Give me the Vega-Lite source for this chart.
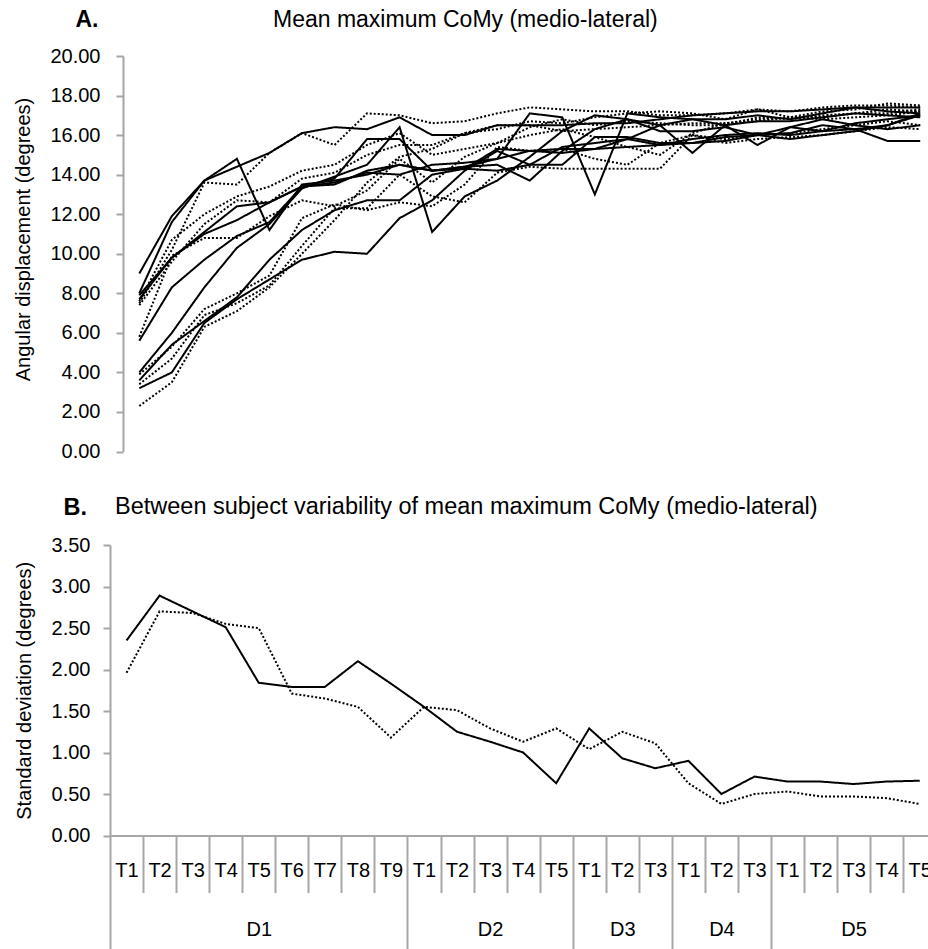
{
  "$schema": "https://vega.github.io/schema/vega-lite/v6.json",
  "background": "white",
  "padding": {"left": 13, "top": 8, "right": 0, "bottom": 0},
  "config": {
    "font": "Liberation Sans",
    "view": {"stroke": null},
    "axis": {
      "domainColor": "#a6a6a6", "tickColor": "#a6a6a6", "domainWidth": 2, "tickWidth": 2,
      "labelColor": "#000000", "titleColor": "#000000", "labelFontSize": 20, "titleFontSize": 20,
      "titleFontWeight": "normal", "grid": false, "labelFont": "Liberation Sans", "titleFont": "Liberation Sans"
    },
    "title": {"font": "Liberation Sans", "fontSize": 23, "fontWeight": "normal", "color": "#000000"}
  },
  "datasets": {
    "variability": [
      {"group":"G1","trial":"D1 T1","sd":2.35},{"group":"G1","trial":"D1 T2","sd":2.89},{"group":"G1","trial":"D1 T3","sd":2.70},{"group":"G1","trial":"D1 T4","sd":2.51},{"group":"G1","trial":"D1 T5","sd":1.84},{"group":"G1","trial":"D1 T6","sd":1.79},{"group":"G1","trial":"D1 T7","sd":1.79},{"group":"G1","trial":"D1 T8","sd":2.10},{"group":"G1","trial":"D1 T9","sd":1.83},
      {"group":"G1","trial":"D2 T1","sd":1.55},{"group":"G1","trial":"D2 T2","sd":1.25},{"group":"G1","trial":"D2 T3","sd":1.13},{"group":"G1","trial":"D2 T4","sd":1.00},{"group":"G1","trial":"D2 T5","sd":0.63},
      {"group":"G1","trial":"D3 T1","sd":1.29},{"group":"G1","trial":"D3 T2","sd":0.93},{"group":"G1","trial":"D3 T3","sd":0.81},
      {"group":"G1","trial":"D4 T1","sd":0.90},{"group":"G1","trial":"D4 T2","sd":0.50},{"group":"G1","trial":"D4 T3","sd":0.71},
      {"group":"G1","trial":"D5 T1","sd":0.65},{"group":"G1","trial":"D5 T2","sd":0.65},{"group":"G1","trial":"D5 T3","sd":0.62},{"group":"G1","trial":"D5 T4","sd":0.65},{"group":"G1","trial":"D5 T5","sd":0.66},
      {"group":"G2","trial":"D1 T1","sd":1.96},{"group":"G2","trial":"D1 T2","sd":2.70},{"group":"G2","trial":"D1 T3","sd":2.68},{"group":"G2","trial":"D1 T4","sd":2.55},{"group":"G2","trial":"D1 T5","sd":2.50},{"group":"G2","trial":"D1 T6","sd":1.71},{"group":"G2","trial":"D1 T7","sd":1.65},{"group":"G2","trial":"D1 T8","sd":1.55},{"group":"G2","trial":"D1 T9","sd":1.18},
      {"group":"G2","trial":"D2 T1","sd":1.55},{"group":"G2","trial":"D2 T2","sd":1.51},{"group":"G2","trial":"D2 T3","sd":1.29},{"group":"G2","trial":"D2 T4","sd":1.13},{"group":"G2","trial":"D2 T5","sd":1.29},
      {"group":"G2","trial":"D3 T1","sd":1.04},{"group":"G2","trial":"D3 T2","sd":1.25},{"group":"G2","trial":"D3 T3","sd":1.11},
      {"group":"G2","trial":"D4 T1","sd":0.63},{"group":"G2","trial":"D4 T2","sd":0.38},{"group":"G2","trial":"D4 T3","sd":0.50},
      {"group":"G2","trial":"D5 T1","sd":0.53},{"group":"G2","trial":"D5 T2","sd":0.47},{"group":"G2","trial":"D5 T3","sd":0.47},{"group":"G2","trial":"D5 T4","sd":0.45},{"group":"G2","trial":"D5 T5","sd":0.38}
    ],
    "subjects": [
      {"subject":"S1","group":"G1","trial":"D1 T1","deg":9.0},{"subject":"S1","group":"G1","trial":"D1 T2","deg":11.9},{"subject":"S1","group":"G1","trial":"D1 T3","deg":13.7},{"subject":"S1","group":"G1","trial":"D1 T4","deg":14.4},{"subject":"S1","group":"G1","trial":"D1 T5","deg":15.1},{"subject":"S1","group":"G1","trial":"D1 T6","deg":16.1},{"subject":"S1","group":"G1","trial":"D1 T7","deg":16.4},{"subject":"S1","group":"G1","trial":"D1 T8","deg":16.3},{"subject":"S1","group":"G1","trial":"D1 T9","deg":16.9},{"subject":"S1","group":"G1","trial":"D2 T1","deg":16.0},{"subject":"S1","group":"G1","trial":"D2 T2","deg":16.0},{"subject":"S1","group":"G1","trial":"D2 T3","deg":16.5},{"subject":"S1","group":"G1","trial":"D2 T4","deg":16.5},{"subject":"S1","group":"G1","trial":"D2 T5","deg":16.5},{"subject":"S1","group":"G1","trial":"D3 T1","deg":16.6},{"subject":"S1","group":"G1","trial":"D3 T2","deg":16.6},{"subject":"S1","group":"G1","trial":"D3 T3","deg":16.8},{"subject":"S1","group":"G1","trial":"D4 T1","deg":17.0},{"subject":"S1","group":"G1","trial":"D4 T2","deg":17.1},{"subject":"S1","group":"G1","trial":"D4 T3","deg":17.2},{"subject":"S1","group":"G1","trial":"D5 T1","deg":17.2},{"subject":"S1","group":"G1","trial":"D5 T2","deg":17.3},{"subject":"S1","group":"G1","trial":"D5 T3","deg":17.4},{"subject":"S1","group":"G1","trial":"D5 T4","deg":17.4},{"subject":"S1","group":"G1","trial":"D5 T5","deg":17.4},
      {"subject":"S2","group":"G1","trial":"D1 T1","deg":8.0},{"subject":"S2","group":"G1","trial":"D1 T2","deg":11.6},{"subject":"S2","group":"G1","trial":"D1 T3","deg":13.7},{"subject":"S2","group":"G1","trial":"D1 T4","deg":14.8},{"subject":"S2","group":"G1","trial":"D1 T5","deg":11.2},{"subject":"S2","group":"G1","trial":"D1 T6","deg":13.5},{"subject":"S2","group":"G1","trial":"D1 T7","deg":13.7},{"subject":"S2","group":"G1","trial":"D1 T8","deg":14.0},{"subject":"S2","group":"G1","trial":"D1 T9","deg":14.5},{"subject":"S2","group":"G1","trial":"D2 T1","deg":14.2},{"subject":"S2","group":"G1","trial":"D2 T2","deg":14.3},{"subject":"S2","group":"G1","trial":"D2 T3","deg":15.3},{"subject":"S2","group":"G1","trial":"D2 T4","deg":15.2},{"subject":"S2","group":"G1","trial":"D2 T5","deg":15.1},{"subject":"S2","group":"G1","trial":"D3 T1","deg":15.3},{"subject":"S2","group":"G1","trial":"D3 T2","deg":15.8},{"subject":"S2","group":"G1","trial":"D3 T3","deg":16.5},{"subject":"S2","group":"G1","trial":"D4 T1","deg":16.8},{"subject":"S2","group":"G1","trial":"D4 T2","deg":16.8},{"subject":"S2","group":"G1","trial":"D4 T3","deg":17.0},{"subject":"S2","group":"G1","trial":"D5 T1","deg":16.8},{"subject":"S2","group":"G1","trial":"D5 T2","deg":17.1},{"subject":"S2","group":"G1","trial":"D5 T3","deg":17.4},{"subject":"S2","group":"G1","trial":"D5 T4","deg":17.2},{"subject":"S2","group":"G1","trial":"D5 T5","deg":17.1},
      {"subject":"S3","group":"G1","trial":"D1 T1","deg":7.9},{"subject":"S3","group":"G1","trial":"D1 T2","deg":9.8},{"subject":"S3","group":"G1","trial":"D1 T3","deg":11.0},{"subject":"S3","group":"G1","trial":"D1 T4","deg":11.7},{"subject":"S3","group":"G1","trial":"D1 T5","deg":12.6},{"subject":"S3","group":"G1","trial":"D1 T6","deg":13.4},{"subject":"S3","group":"G1","trial":"D1 T7","deg":13.8},{"subject":"S3","group":"G1","trial":"D1 T8","deg":15.8},{"subject":"S3","group":"G1","trial":"D1 T9","deg":15.8},{"subject":"S3","group":"G1","trial":"D2 T1","deg":14.2},{"subject":"S3","group":"G1","trial":"D2 T2","deg":14.4},{"subject":"S3","group":"G1","trial":"D2 T3","deg":14.5},{"subject":"S3","group":"G1","trial":"D2 T4","deg":13.7},{"subject":"S3","group":"G1","trial":"D2 T5","deg":15.2},{"subject":"S3","group":"G1","trial":"D3 T1","deg":16.3},{"subject":"S3","group":"G1","trial":"D3 T2","deg":16.8},{"subject":"S3","group":"G1","trial":"D3 T3","deg":16.5},{"subject":"S3","group":"G1","trial":"D4 T1","deg":15.1},{"subject":"S3","group":"G1","trial":"D4 T2","deg":16.5},{"subject":"S3","group":"G1","trial":"D4 T3","deg":16.7},{"subject":"S3","group":"G1","trial":"D5 T1","deg":16.7},{"subject":"S3","group":"G1","trial":"D5 T2","deg":16.9},{"subject":"S3","group":"G1","trial":"D5 T3","deg":17.1},{"subject":"S3","group":"G1","trial":"D5 T4","deg":17.0},{"subject":"S3","group":"G1","trial":"D5 T5","deg":16.9},
      {"subject":"S4","group":"G1","trial":"D1 T1","deg":5.6},{"subject":"S4","group":"G1","trial":"D1 T2","deg":8.3},{"subject":"S4","group":"G1","trial":"D1 T3","deg":9.7},{"subject":"S4","group":"G1","trial":"D1 T4","deg":10.9},{"subject":"S4","group":"G1","trial":"D1 T5","deg":11.6},{"subject":"S4","group":"G1","trial":"D1 T6","deg":13.4},{"subject":"S4","group":"G1","trial":"D1 T7","deg":13.5},{"subject":"S4","group":"G1","trial":"D1 T8","deg":14.2},{"subject":"S4","group":"G1","trial":"D1 T9","deg":14.5},{"subject":"S4","group":"G1","trial":"D2 T1","deg":14.2},{"subject":"S4","group":"G1","trial":"D2 T2","deg":14.4},{"subject":"S4","group":"G1","trial":"D2 T3","deg":14.8},{"subject":"S4","group":"G1","trial":"D2 T4","deg":17.1},{"subject":"S4","group":"G1","trial":"D2 T5","deg":16.9},{"subject":"S4","group":"G1","trial":"D3 T1","deg":13.0},{"subject":"S4","group":"G1","trial":"D3 T2","deg":17.1},{"subject":"S4","group":"G1","trial":"D3 T3","deg":16.9},{"subject":"S4","group":"G1","trial":"D4 T1","deg":16.8},{"subject":"S4","group":"G1","trial":"D4 T2","deg":16.5},{"subject":"S4","group":"G1","trial":"D4 T3","deg":15.5},{"subject":"S4","group":"G1","trial":"D5 T1","deg":16.4},{"subject":"S4","group":"G1","trial":"D5 T2","deg":16.8},{"subject":"S4","group":"G1","trial":"D5 T3","deg":16.5},{"subject":"S4","group":"G1","trial":"D5 T4","deg":16.3},{"subject":"S4","group":"G1","trial":"D5 T5","deg":16.5},
      {"subject":"S5","group":"G1","trial":"D1 T1","deg":4.0},{"subject":"S5","group":"G1","trial":"D1 T2","deg":6.0},{"subject":"S5","group":"G1","trial":"D1 T3","deg":8.3},{"subject":"S5","group":"G1","trial":"D1 T4","deg":10.3},{"subject":"S5","group":"G1","trial":"D1 T5","deg":11.5},{"subject":"S5","group":"G1","trial":"D1 T6","deg":13.3},{"subject":"S5","group":"G1","trial":"D1 T7","deg":13.9},{"subject":"S5","group":"G1","trial":"D1 T8","deg":14.5},{"subject":"S5","group":"G1","trial":"D1 T9","deg":16.4},{"subject":"S5","group":"G1","trial":"D2 T1","deg":11.1},{"subject":"S5","group":"G1","trial":"D2 T2","deg":12.9},{"subject":"S5","group":"G1","trial":"D2 T3","deg":13.7},{"subject":"S5","group":"G1","trial":"D2 T4","deg":14.9},{"subject":"S5","group":"G1","trial":"D2 T5","deg":16.2},{"subject":"S5","group":"G1","trial":"D3 T1","deg":17.0},{"subject":"S5","group":"G1","trial":"D3 T2","deg":16.8},{"subject":"S5","group":"G1","trial":"D3 T3","deg":16.2},{"subject":"S5","group":"G1","trial":"D4 T1","deg":16.2},{"subject":"S5","group":"G1","trial":"D4 T2","deg":16.4},{"subject":"S5","group":"G1","trial":"D4 T3","deg":16.0},{"subject":"S5","group":"G1","trial":"D5 T1","deg":16.4},{"subject":"S5","group":"G1","trial":"D5 T2","deg":16.2},{"subject":"S5","group":"G1","trial":"D5 T3","deg":16.6},{"subject":"S5","group":"G1","trial":"D5 T4","deg":16.8},{"subject":"S5","group":"G1","trial":"D5 T5","deg":17.0},
      {"subject":"S6","group":"G1","trial":"D1 T1","deg":3.6},{"subject":"S6","group":"G1","trial":"D1 T2","deg":5.4},{"subject":"S6","group":"G1","trial":"D1 T3","deg":6.6},{"subject":"S6","group":"G1","trial":"D1 T4","deg":7.8},{"subject":"S6","group":"G1","trial":"D1 T5","deg":9.7},{"subject":"S6","group":"G1","trial":"D1 T6","deg":11.2},{"subject":"S6","group":"G1","trial":"D1 T7","deg":12.2},{"subject":"S6","group":"G1","trial":"D1 T8","deg":12.7},{"subject":"S6","group":"G1","trial":"D1 T9","deg":12.7},{"subject":"S6","group":"G1","trial":"D2 T1","deg":14.0},{"subject":"S6","group":"G1","trial":"D2 T2","deg":14.3},{"subject":"S6","group":"G1","trial":"D2 T3","deg":14.2},{"subject":"S6","group":"G1","trial":"D2 T4","deg":14.5},{"subject":"S6","group":"G1","trial":"D2 T5","deg":15.4},{"subject":"S6","group":"G1","trial":"D3 T1","deg":15.6},{"subject":"S6","group":"G1","trial":"D3 T2","deg":15.8},{"subject":"S6","group":"G1","trial":"D3 T3","deg":15.5},{"subject":"S6","group":"G1","trial":"D4 T1","deg":15.8},{"subject":"S6","group":"G1","trial":"D4 T2","deg":16.0},{"subject":"S6","group":"G1","trial":"D4 T3","deg":16.1},{"subject":"S6","group":"G1","trial":"D5 T1","deg":16.0},{"subject":"S6","group":"G1","trial":"D5 T2","deg":16.2},{"subject":"S6","group":"G1","trial":"D5 T3","deg":16.3},{"subject":"S6","group":"G1","trial":"D5 T4","deg":15.7},{"subject":"S6","group":"G1","trial":"D5 T5","deg":15.7},
      {"subject":"S7","group":"G1","trial":"D1 T1","deg":3.2},{"subject":"S7","group":"G1","trial":"D1 T2","deg":4.0},{"subject":"S7","group":"G1","trial":"D1 T3","deg":6.5},{"subject":"S7","group":"G1","trial":"D1 T4","deg":7.7},{"subject":"S7","group":"G1","trial":"D1 T5","deg":8.7},{"subject":"S7","group":"G1","trial":"D1 T6","deg":9.7},{"subject":"S7","group":"G1","trial":"D1 T7","deg":10.1},{"subject":"S7","group":"G1","trial":"D1 T8","deg":10.0},{"subject":"S7","group":"G1","trial":"D1 T9","deg":11.8},{"subject":"S7","group":"G1","trial":"D2 T1","deg":12.7},{"subject":"S7","group":"G1","trial":"D2 T2","deg":14.2},{"subject":"S7","group":"G1","trial":"D2 T3","deg":15.2},{"subject":"S7","group":"G1","trial":"D2 T4","deg":14.5},{"subject":"S7","group":"G1","trial":"D2 T5","deg":14.5},{"subject":"S7","group":"G1","trial":"D3 T1","deg":15.9},{"subject":"S7","group":"G1","trial":"D3 T2","deg":15.9},{"subject":"S7","group":"G1","trial":"D3 T3","deg":15.6},{"subject":"S7","group":"G1","trial":"D4 T1","deg":15.6},{"subject":"S7","group":"G1","trial":"D4 T2","deg":15.9},{"subject":"S7","group":"G1","trial":"D4 T3","deg":16.0},{"subject":"S7","group":"G1","trial":"D5 T1","deg":15.8},{"subject":"S7","group":"G1","trial":"D5 T2","deg":16.0},{"subject":"S7","group":"G1","trial":"D5 T3","deg":16.2},{"subject":"S7","group":"G1","trial":"D5 T4","deg":16.5},{"subject":"S7","group":"G1","trial":"D5 T5","deg":17.0},
      {"subject":"S8","group":"G1","trial":"D1 T1","deg":7.7},{"subject":"S8","group":"G1","trial":"D1 T2","deg":9.8},{"subject":"S8","group":"G1","trial":"D1 T3","deg":11.1},{"subject":"S8","group":"G1","trial":"D1 T4","deg":12.4},{"subject":"S8","group":"G1","trial":"D1 T5","deg":12.6},{"subject":"S8","group":"G1","trial":"D1 T6","deg":13.4},{"subject":"S8","group":"G1","trial":"D1 T7","deg":13.6},{"subject":"S8","group":"G1","trial":"D1 T8","deg":14.1},{"subject":"S8","group":"G1","trial":"D1 T9","deg":14.0},{"subject":"S8","group":"G1","trial":"D2 T1","deg":14.5},{"subject":"S8","group":"G1","trial":"D2 T2","deg":14.6},{"subject":"S8","group":"G1","trial":"D2 T3","deg":14.8},{"subject":"S8","group":"G1","trial":"D2 T4","deg":15.2},{"subject":"S8","group":"G1","trial":"D2 T5","deg":15.3},{"subject":"S8","group":"G1","trial":"D3 T1","deg":15.3},{"subject":"S8","group":"G1","trial":"D3 T2","deg":15.4},{"subject":"S8","group":"G1","trial":"D3 T3","deg":15.5},{"subject":"S8","group":"G1","trial":"D4 T1","deg":15.6},{"subject":"S8","group":"G1","trial":"D4 T2","deg":15.7},{"subject":"S8","group":"G1","trial":"D4 T3","deg":16.0},{"subject":"S8","group":"G1","trial":"D5 T1","deg":16.1},{"subject":"S8","group":"G1","trial":"D5 T2","deg":16.5},{"subject":"S8","group":"G1","trial":"D5 T3","deg":16.3},{"subject":"S8","group":"G1","trial":"D5 T4","deg":16.5},{"subject":"S8","group":"G1","trial":"D5 T5","deg":17.1},
      {"subject":"P1","group":"G2","trial":"D1 T1","deg":7.5},{"subject":"P1","group":"G2","trial":"D1 T2","deg":10.2},{"subject":"P1","group":"G2","trial":"D1 T3","deg":13.6},{"subject":"P1","group":"G2","trial":"D1 T4","deg":13.5},{"subject":"P1","group":"G2","trial":"D1 T5","deg":15.1},{"subject":"P1","group":"G2","trial":"D1 T6","deg":16.1},{"subject":"P1","group":"G2","trial":"D1 T7","deg":15.5},{"subject":"P1","group":"G2","trial":"D1 T8","deg":17.1},{"subject":"P1","group":"G2","trial":"D1 T9","deg":17.0},{"subject":"P1","group":"G2","trial":"D2 T1","deg":16.6},{"subject":"P1","group":"G2","trial":"D2 T2","deg":16.7},{"subject":"P1","group":"G2","trial":"D2 T3","deg":17.1},{"subject":"P1","group":"G2","trial":"D2 T4","deg":17.4},{"subject":"P1","group":"G2","trial":"D2 T5","deg":17.3},{"subject":"P1","group":"G2","trial":"D3 T1","deg":17.2},{"subject":"P1","group":"G2","trial":"D3 T2","deg":17.2},{"subject":"P1","group":"G2","trial":"D3 T3","deg":17.0},{"subject":"P1","group":"G2","trial":"D4 T1","deg":17.0},{"subject":"P1","group":"G2","trial":"D4 T2","deg":17.1},{"subject":"P1","group":"G2","trial":"D4 T3","deg":17.3},{"subject":"P1","group":"G2","trial":"D5 T1","deg":17.2},{"subject":"P1","group":"G2","trial":"D5 T2","deg":17.4},{"subject":"P1","group":"G2","trial":"D5 T3","deg":17.5},{"subject":"P1","group":"G2","trial":"D5 T4","deg":17.5},{"subject":"P1","group":"G2","trial":"D5 T5","deg":17.4},
      {"subject":"P2","group":"G2","trial":"D1 T1","deg":7.4},{"subject":"P2","group":"G2","trial":"D1 T2","deg":9.6},{"subject":"P2","group":"G2","trial":"D1 T3","deg":11.5},{"subject":"P2","group":"G2","trial":"D1 T4","deg":12.7},{"subject":"P2","group":"G2","trial":"D1 T5","deg":12.6},{"subject":"P2","group":"G2","trial":"D1 T6","deg":13.8},{"subject":"P2","group":"G2","trial":"D1 T7","deg":14.1},{"subject":"P2","group":"G2","trial":"D1 T8","deg":15.0},{"subject":"P2","group":"G2","trial":"D1 T9","deg":15.5},{"subject":"P2","group":"G2","trial":"D2 T1","deg":15.5},{"subject":"P2","group":"G2","trial":"D2 T2","deg":16.1},{"subject":"P2","group":"G2","trial":"D2 T3","deg":16.3},{"subject":"P2","group":"G2","trial":"D2 T4","deg":16.7},{"subject":"P2","group":"G2","trial":"D2 T5","deg":16.6},{"subject":"P2","group":"G2","trial":"D3 T1","deg":16.9},{"subject":"P2","group":"G2","trial":"D3 T2","deg":17.1},{"subject":"P2","group":"G2","trial":"D3 T3","deg":17.2},{"subject":"P2","group":"G2","trial":"D4 T1","deg":17.1},{"subject":"P2","group":"G2","trial":"D4 T2","deg":16.8},{"subject":"P2","group":"G2","trial":"D4 T3","deg":17.3},{"subject":"P2","group":"G2","trial":"D5 T1","deg":16.9},{"subject":"P2","group":"G2","trial":"D5 T2","deg":17.2},{"subject":"P2","group":"G2","trial":"D5 T3","deg":17.3},{"subject":"P2","group":"G2","trial":"D5 T4","deg":17.6},{"subject":"P2","group":"G2","trial":"D5 T5","deg":17.5},
      {"subject":"P3","group":"G2","trial":"D1 T1","deg":5.8},{"subject":"P3","group":"G2","trial":"D1 T2","deg":9.9},{"subject":"P3","group":"G2","trial":"D1 T3","deg":10.8},{"subject":"P3","group":"G2","trial":"D1 T4","deg":10.8},{"subject":"P3","group":"G2","trial":"D1 T5","deg":11.9},{"subject":"P3","group":"G2","trial":"D1 T6","deg":12.7},{"subject":"P3","group":"G2","trial":"D1 T7","deg":12.4},{"subject":"P3","group":"G2","trial":"D1 T8","deg":13.2},{"subject":"P3","group":"G2","trial":"D1 T9","deg":14.8},{"subject":"P3","group":"G2","trial":"D2 T1","deg":13.6},{"subject":"P3","group":"G2","trial":"D2 T2","deg":14.9},{"subject":"P3","group":"G2","trial":"D2 T3","deg":15.6},{"subject":"P3","group":"G2","trial":"D2 T4","deg":16.4},{"subject":"P3","group":"G2","trial":"D2 T5","deg":16.8},{"subject":"P3","group":"G2","trial":"D3 T1","deg":16.5},{"subject":"P3","group":"G2","trial":"D3 T2","deg":16.7},{"subject":"P3","group":"G2","trial":"D3 T3","deg":16.6},{"subject":"P3","group":"G2","trial":"D4 T1","deg":16.5},{"subject":"P3","group":"G2","trial":"D4 T2","deg":16.5},{"subject":"P3","group":"G2","trial":"D4 T3","deg":16.9},{"subject":"P3","group":"G2","trial":"D5 T1","deg":16.8},{"subject":"P3","group":"G2","trial":"D5 T2","deg":17.0},{"subject":"P3","group":"G2","trial":"D5 T3","deg":17.1},{"subject":"P3","group":"G2","trial":"D5 T4","deg":17.3},{"subject":"P3","group":"G2","trial":"D5 T5","deg":17.2},
      {"subject":"P4","group":"G2","trial":"D1 T1","deg":3.9},{"subject":"P4","group":"G2","trial":"D1 T2","deg":5.3},{"subject":"P4","group":"G2","trial":"D1 T3","deg":7.2},{"subject":"P4","group":"G2","trial":"D1 T4","deg":8.0},{"subject":"P4","group":"G2","trial":"D1 T5","deg":8.9},{"subject":"P4","group":"G2","trial":"D1 T6","deg":11.8},{"subject":"P4","group":"G2","trial":"D1 T7","deg":12.5},{"subject":"P4","group":"G2","trial":"D1 T8","deg":12.2},{"subject":"P4","group":"G2","trial":"D1 T9","deg":12.6},{"subject":"P4","group":"G2","trial":"D2 T1","deg":12.4},{"subject":"P4","group":"G2","trial":"D2 T2","deg":13.5},{"subject":"P4","group":"G2","trial":"D2 T3","deg":15.4},{"subject":"P4","group":"G2","trial":"D2 T4","deg":15.2},{"subject":"P4","group":"G2","trial":"D2 T5","deg":15.3},{"subject":"P4","group":"G2","trial":"D3 T1","deg":14.8},{"subject":"P4","group":"G2","trial":"D3 T2","deg":14.5},{"subject":"P4","group":"G2","trial":"D3 T3","deg":15.6},{"subject":"P4","group":"G2","trial":"D4 T1","deg":16.0},{"subject":"P4","group":"G2","trial":"D4 T2","deg":15.8},{"subject":"P4","group":"G2","trial":"D4 T3","deg":16.0},{"subject":"P4","group":"G2","trial":"D5 T1","deg":16.1},{"subject":"P4","group":"G2","trial":"D5 T2","deg":16.3},{"subject":"P4","group":"G2","trial":"D5 T3","deg":16.5},{"subject":"P4","group":"G2","trial":"D5 T4","deg":16.7},{"subject":"P4","group":"G2","trial":"D5 T5","deg":16.5},
      {"subject":"P5","group":"G2","trial":"D1 T1","deg":3.4},{"subject":"P5","group":"G2","trial":"D1 T2","deg":4.7},{"subject":"P5","group":"G2","trial":"D1 T3","deg":6.9},{"subject":"P5","group":"G2","trial":"D1 T4","deg":7.5},{"subject":"P5","group":"G2","trial":"D1 T5","deg":8.4},{"subject":"P5","group":"G2","trial":"D1 T6","deg":10.4},{"subject":"P5","group":"G2","trial":"D1 T7","deg":12.3},{"subject":"P5","group":"G2","trial":"D1 T8","deg":12.3},{"subject":"P5","group":"G2","trial":"D1 T9","deg":14.0},{"subject":"P5","group":"G2","trial":"D2 T1","deg":12.9},{"subject":"P5","group":"G2","trial":"D2 T2","deg":12.6},{"subject":"P5","group":"G2","trial":"D2 T3","deg":14.1},{"subject":"P5","group":"G2","trial":"D2 T4","deg":14.4},{"subject":"P5","group":"G2","trial":"D2 T5","deg":14.3},{"subject":"P5","group":"G2","trial":"D3 T1","deg":14.3},{"subject":"P5","group":"G2","trial":"D3 T2","deg":14.3},{"subject":"P5","group":"G2","trial":"D3 T3","deg":14.3},{"subject":"P5","group":"G2","trial":"D4 T1","deg":16.0},{"subject":"P5","group":"G2","trial":"D4 T2","deg":15.6},{"subject":"P5","group":"G2","trial":"D4 T3","deg":15.8},{"subject":"P5","group":"G2","trial":"D5 T1","deg":15.9},{"subject":"P5","group":"G2","trial":"D5 T2","deg":16.0},{"subject":"P5","group":"G2","trial":"D5 T3","deg":16.2},{"subject":"P5","group":"G2","trial":"D5 T4","deg":16.4},{"subject":"P5","group":"G2","trial":"D5 T5","deg":16.3},
      {"subject":"P6","group":"G2","trial":"D1 T1","deg":2.3},{"subject":"P6","group":"G2","trial":"D1 T2","deg":3.5},{"subject":"P6","group":"G2","trial":"D1 T3","deg":6.3},{"subject":"P6","group":"G2","trial":"D1 T4","deg":7.1},{"subject":"P6","group":"G2","trial":"D1 T5","deg":8.3},{"subject":"P6","group":"G2","trial":"D1 T6","deg":10.0},{"subject":"P6","group":"G2","trial":"D1 T7","deg":11.7},{"subject":"P6","group":"G2","trial":"D1 T8","deg":13.6},{"subject":"P6","group":"G2","trial":"D1 T9","deg":14.9},{"subject":"P6","group":"G2","trial":"D2 T1","deg":15.3},{"subject":"P6","group":"G2","trial":"D2 T2","deg":16.1},{"subject":"P6","group":"G2","trial":"D2 T3","deg":16.5},{"subject":"P6","group":"G2","trial":"D2 T4","deg":16.5},{"subject":"P6","group":"G2","trial":"D2 T5","deg":16.2},{"subject":"P6","group":"G2","trial":"D3 T1","deg":16.3},{"subject":"P6","group":"G2","trial":"D3 T2","deg":16.4},{"subject":"P6","group":"G2","trial":"D3 T3","deg":16.5},{"subject":"P6","group":"G2","trial":"D4 T1","deg":16.6},{"subject":"P6","group":"G2","trial":"D4 T2","deg":16.6},{"subject":"P6","group":"G2","trial":"D4 T3","deg":16.7},{"subject":"P6","group":"G2","trial":"D5 T1","deg":16.9},{"subject":"P6","group":"G2","trial":"D5 T2","deg":16.8},{"subject":"P6","group":"G2","trial":"D5 T3","deg":16.9},{"subject":"P6","group":"G2","trial":"D5 T4","deg":17.0},{"subject":"P6","group":"G2","trial":"D5 T5","deg":17.2},
      {"subject":"P7","group":"G2","trial":"D1 T1","deg":7.6},{"subject":"P7","group":"G2","trial":"D1 T2","deg":10.7},{"subject":"P7","group":"G2","trial":"D1 T3","deg":12.0},{"subject":"P7","group":"G2","trial":"D1 T4","deg":12.9},{"subject":"P7","group":"G2","trial":"D1 T5","deg":13.4},{"subject":"P7","group":"G2","trial":"D1 T6","deg":14.2},{"subject":"P7","group":"G2","trial":"D1 T7","deg":14.5},{"subject":"P7","group":"G2","trial":"D1 T8","deg":15.5},{"subject":"P7","group":"G2","trial":"D1 T9","deg":16.1},{"subject":"P7","group":"G2","trial":"D2 T1","deg":15.0},{"subject":"P7","group":"G2","trial":"D2 T2","deg":15.3},{"subject":"P7","group":"G2","trial":"D2 T3","deg":15.6},{"subject":"P7","group":"G2","trial":"D2 T4","deg":16.0},{"subject":"P7","group":"G2","trial":"D2 T5","deg":16.3},{"subject":"P7","group":"G2","trial":"D3 T1","deg":15.9},{"subject":"P7","group":"G2","trial":"D3 T2","deg":15.4},{"subject":"P7","group":"G2","trial":"D3 T3","deg":15.0},{"subject":"P7","group":"G2","trial":"D4 T1","deg":16.1},{"subject":"P7","group":"G2","trial":"D4 T2","deg":16.6},{"subject":"P7","group":"G2","trial":"D4 T3","deg":16.8},{"subject":"P7","group":"G2","trial":"D5 T1","deg":16.9},{"subject":"P7","group":"G2","trial":"D5 T2","deg":16.9},{"subject":"P7","group":"G2","trial":"D5 T3","deg":17.1},{"subject":"P7","group":"G2","trial":"D5 T4","deg":17.1},{"subject":"P7","group":"G2","trial":"D5 T5","deg":17.3}
    ]
  },
  "concat": [
    {
      "data": {"name": "subjects"},
      "width": 839.5,
      "height": 395.5,
      "title": {"text": "Mean maximum CoMy (medio-lateral)", "anchor": "start", "frame": "group", "dx": 163, "offset": -41.5, "baseline": "alphabetic"},
      "mark": {"type": "line", "color": "#000000", "strokeWidth": 2},
      "encoding": {
        "x": {
          "field": "trial", "type": "nominal", "sort": null,
          "scale": {"type": "band", "paddingInner": 0, "paddingOuter": 0.4},
          "axis": {
            "domain": false, "ticks": false, "labels": false,
            "title": "A.", "titleFontWeight": "bold", "titleFontSize": 23,
            "titleAlign": "left", "titleAnchor": "start", "titleBaseline": "alphabetic",
            "titleX": -35, "titleY": -425
          }
        },
        "y": {
          "field": "deg", "type": "quantitative",
          "scale": {"domain": [0, 20], "nice": false},
          "axis": {
            "title": "Angular displacement (degrees)", "offset": -13, "titleY": 183,
            "values": [0, 2, 4, 6, 8, 10, 12, 14, 16, 18, 20], "format": ".2f",
            "tickSize": 7, "labelPadding": 16, "titlePadding": 16
          }
        },
        "detail": {"field": "subject", "type": "nominal"},
        "strokeDash": {"field": "group", "type": "nominal", "scale": {"domain": ["G1", "G2"], "range": [[1, 0], [2, 2]]}, "legend": null}
      }
    },
    {
      "data": {"name": "variability"},
      "width": 826.25,
      "height": 290.5,
      "title": {"text": "Between subject variability of mean maximum CoMy (medio-lateral)", "fontSize": 23.5, "anchor": "start", "frame": "group", "dx": 5, "offset": -41.5, "baseline": "alphabetic"},
      "mark": {"type": "line", "color": "#000000", "strokeWidth": 2},
      "encoding": {
        "x": {
          "field": "trial", "type": "nominal", "sort": null,
          "scale": {"type": "band", "paddingInner": 0, "paddingOuter": 0},
          "axis": {
            "title": "B.", "titleFontWeight": "bold", "titleFontSize": 23.5,
            "titleAlign": "left", "titleAnchor": "start", "titleBaseline": "alphabetic",
            "titleX": -47, "titleY": -321,
            "tickBand": "extent",
            "tickSize": {"condition": {"test": "(datum.extra || indexof(['D1 T9','D2 T5','D3 T3','D4 T3'], datum.value) >= 0)", "value": 120}, "value": 57},
            "labelPadding": {"condition": {"test": "(datum.extra || indexof(['D1 T9','D2 T5','D3 T3','D4 T3'], datum.value) >= 0)", "value": -95.5}, "value": -32.5},
            "labelAngle": 0, "labelBaseline": "top", "labelLineHeight": 59,
            "labelOverlap": false, "labelBound": false,
            "labelExpr": "indexof(['D1 T5','D2 T3','D3 T2','D4 T2','D5 T3'], datum.value) >= 0 ? [split(datum.value, ' ')[1], split(datum.value, ' ')[0]] : split(datum.value, ' ')[1]"
          }
        },
        "y": {
          "field": "sd", "type": "quantitative",
          "scale": {"domain": [0, 3.5], "nice": false},
          "axis": {
            "title": "Standard deviation (degrees)",
            "values": [0, 0.5, 1, 1.5, 2, 2.5, 3, 3.5], "format": ".2f",
            "tickSize": 7, "labelPadding": 13, "titlePadding": 17
          }
        },
        "strokeDash": {"field": "group", "type": "nominal", "scale": {"domain": ["G1", "G2"], "range": [[1, 0], [2, 2]]}, "legend": null}
      }
    }
  ],
  "columns": 1,
  "align": "none",
  "spacing": 32
}
